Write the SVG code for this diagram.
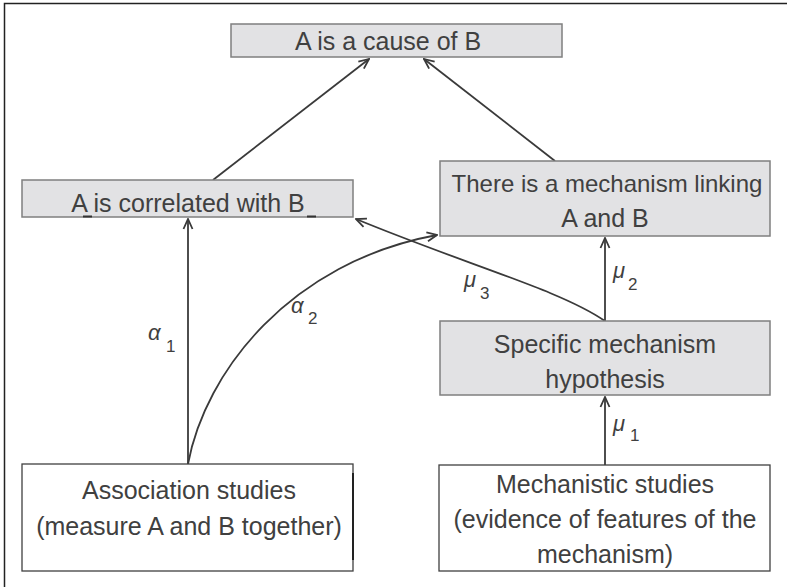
<svg xmlns="http://www.w3.org/2000/svg" width="787" height="587" viewBox="0 0 787 587">
<style>
.g{fill:#e2e2e4;stroke:#7f7f7f;stroke-width:1.5}
.w{fill:#ffffff;stroke:#404040;stroke-width:1.3}
.t{font-family:"Liberation Sans",Arial,sans-serif;font-size:25px;fill:#404040;text-anchor:middle}
.c{fill:none;stroke:#3a3a3a;stroke-width:1.8}
.lab{font-family:"Liberation Sans",Arial,sans-serif;font-style:italic;font-size:22px;fill:#404040}
.sub{font-family:"Liberation Sans",Arial,sans-serif;font-size:17px;fill:#404040}
</style>
<defs>
<marker id="ah" viewBox="0 0 12 12" refX="11" refY="6" markerWidth="12" markerHeight="12" markerUnits="userSpaceOnUse" orient="auto">
<path d="M1,1.5 L11,6 L1,10.5" fill="none" stroke="#3a3a3a" stroke-width="1.8"/>
</marker>
</defs>
<rect width="787" height="587" fill="#ffffff"/>
<path d="M4.5,587 L4.5,3.5 L787,3.5" fill="none" stroke="#222" stroke-width="1.5"/>

<g id="connectors">
<line class="c" x1="213" y1="180" x2="369" y2="59" marker-end="url(#ah)"/>
<line class="c" x1="555" y1="161" x2="424" y2="59" marker-end="url(#ah)"/>
<line class="c" x1="188" y1="464" x2="188" y2="219" marker-end="url(#ah)"/>
<path class="c" d="M188,464 C205,372 290,262 437,235" marker-end="url(#ah)"/>
<path class="c" d="M605,321 C560,290 470,266 356,219" marker-end="url(#ah)"/>
<line class="c" x1="605" y1="321" x2="605" y2="238" marker-end="url(#ah)"/>
<line class="c" x1="605" y1="465" x2="605" y2="397" marker-end="url(#ah)"/>
</g>

<g id="labels">
<text class="lab" x="148" y="340">α</text><text class="sub" x="166" y="352">1</text>
<text class="lab" x="291" y="313">α</text><text class="sub" x="308" y="324">2</text>
<text class="lab" x="464" y="287">μ</text><text class="sub" x="480" y="299">3</text>
<text class="lab" x="613" y="278">μ</text><text class="sub" x="628" y="290">2</text>
<text class="lab" x="613" y="431">μ</text><text class="sub" x="630" y="441">1</text>
</g>

<g id="cause">
<rect class="g" x="231" y="24" width="331" height="33"/>
<text class="t" x="388" y="50">A is a cause of B</text>
</g>

<g id="correlated">
<rect class="g" x="22" y="180" width="331" height="37"/>
<text class="t" x="188" y="212">A is correlated with B</text>
<rect x="83" y="215.5" width="9" height="2" fill="#333"/>
<rect x="307" y="215.5" width="9" height="2" fill="#333"/>
</g>

<g id="mechanism">
<rect class="g" x="440" y="161" width="330" height="75"/>
<text class="t" x="607" y="192" style="font-size:24px">There is a mechanism linking</text>
<text class="t" x="605" y="227">A and B</text>
</g>

<g id="specific">
<rect class="g" x="440" y="321" width="330" height="74"/>
<text class="t" x="605" y="353">Specific mechanism</text>
<text class="t" x="605" y="388">hypothesis</text>
</g>

<g id="association">
<rect class="w" x="22" y="464" width="331" height="107"/>
<line x1="353" y1="473" x2="353" y2="560" stroke="#222" stroke-width="2"/>
<text class="t" x="189" y="499">Association studies</text>
<text class="t" x="189" y="535">(measure A and B together)</text>
</g>

<g id="mechanistic">
<rect class="w" x="439" y="465" width="331" height="106"/>
<text class="t" x="605" y="493">Mechanistic studies</text>
<text class="t" x="605" y="528">(evidence of features of the</text>
<text class="t" x="605" y="563">mechanism)</text>
</g>
</svg>
